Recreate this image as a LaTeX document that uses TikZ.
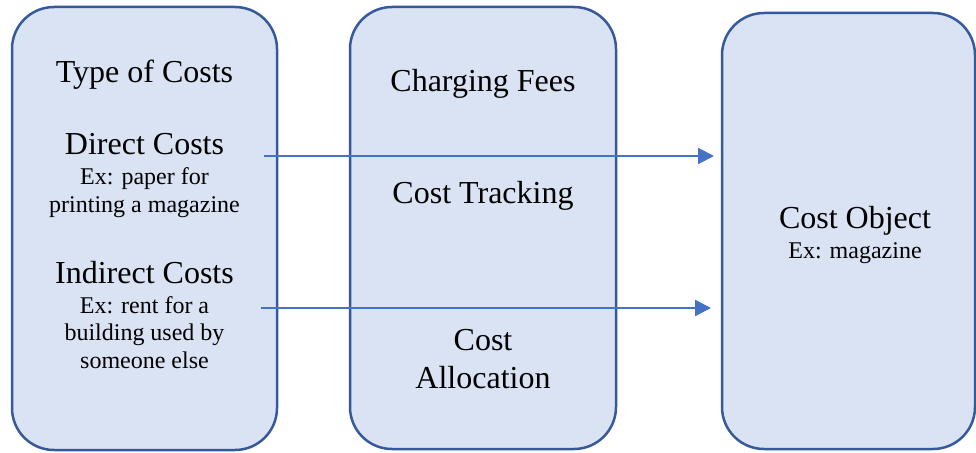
\documentclass[tikz,border=0pt]{standalone}
\usepackage{fontspec}
\setmainfont{Liberation Serif}
\usetikzlibrary{positioning,arrows.meta}

\definecolor{panelfill}{HTML}{DAE3F3}
\definecolor{panelline}{HTML}{35599A}
\definecolor{flowblue}{HTML}{4472C4}

\tikzset{
  panel/.style={draw=panelline, fill=panelfill, line width=2.5pt, rounded corners=42pt, inner sep=0pt},
  big/.style={font=\fontsize{32}{38}\selectfont, inner sep=0pt, anchor=base, align=center},
  small/.style={font=\fontsize{24}{27.5}\selectfont, inner sep=0pt, anchor=base, align=center},
  flow/.style={-{Triangle[length=16pt,width=16pt]}, draw=flowblue, line width=2.25pt},
}

\begin{document}
\begin{tikzpicture}[x=1pt,y=-1pt]
    \useasboundingbox (0,0) rectangle (976,452);

    % Panels
    \node[panel, minimum width=265pt, minimum height=443pt] (costs) at (144.5,228.5) {};
    \node[panel, minimum width=266pt, minimum height=442pt] (methods) at (483,228) {};
    \node[panel, minimum width=253pt, minimum height=436pt] (object) at (848.5,231) {};

    % Texts (multi-line ones sit on their last baseline)
    \node[big] (typeof) at (144.5,82) {Type of Costs};
    \node[big] (direct) at (144.5,154) {Direct Costs};
    \node[small] (directex) at (144.5,212) {Ex: paper for\\printing a magazine};
    \node[big] (indirect) at (144.5,283) {Indirect Costs};
    \node[small] (indirectex) at (144.5,368) {Ex: rent for a\\building used by\\someone else};

    \node[big] (fees) at (483,91) {Charging Fees};
    \node[big] (tracking) at (483,203) {Cost Tracking};
    \node[big] (allocation) at (483,388) {Cost\\Allocation};

    \node[big] (costobj) at (855,228) {Cost Object};
    \node[small] (costobjex) at (855,258) {Ex: magazine};

    % Arrows
    \coordinate (dstart) at (264,156);
    \coordinate (dend) at (714,156);
    \coordinate (istart) at (261,308);
    \coordinate (iend) at (711,308);
    \draw[flow] (dstart) -- (dend);
    \draw[flow] (istart) -- (iend);
\end{tikzpicture}
\end{document}
